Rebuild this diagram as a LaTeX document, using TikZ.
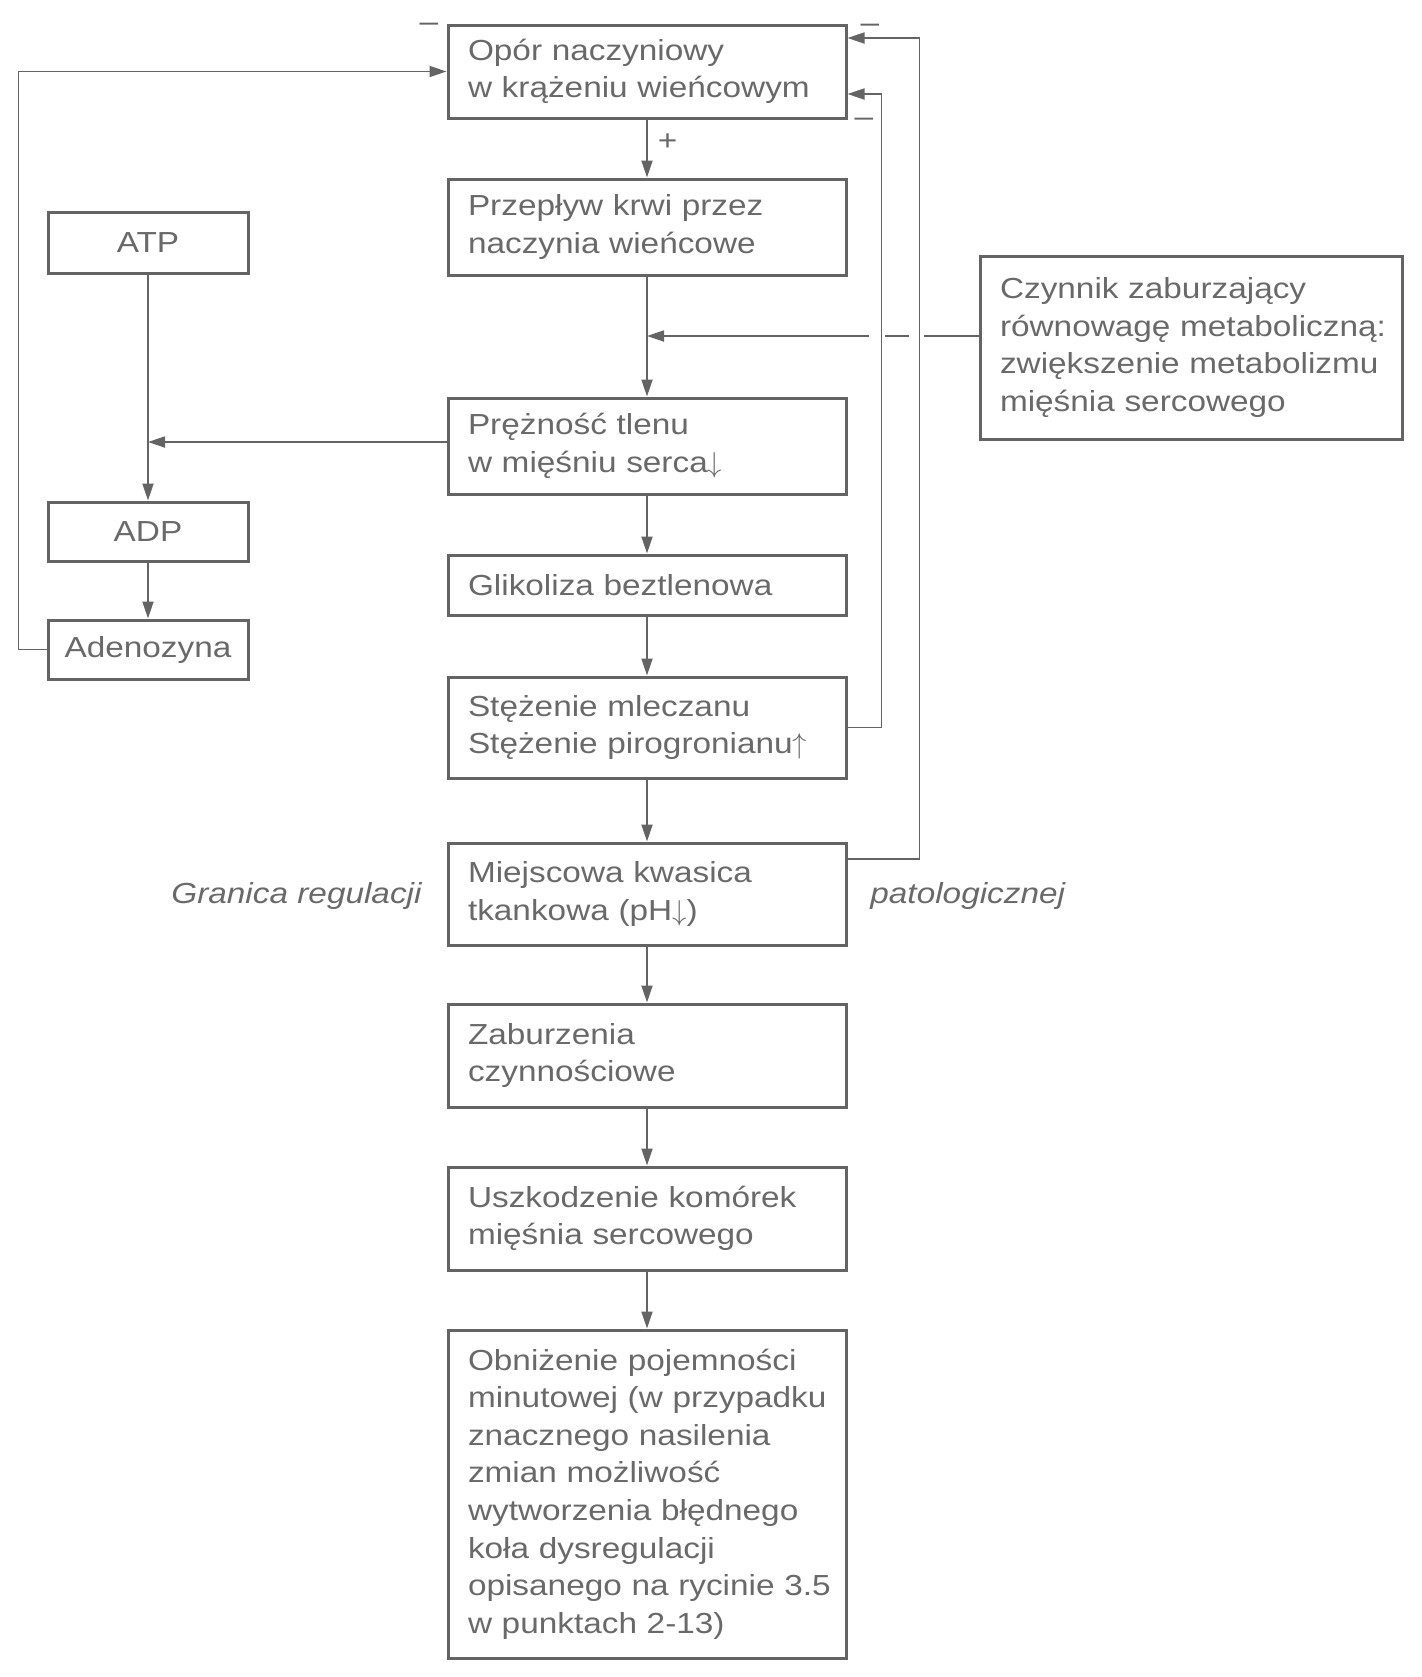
\documentclass[tikz,border=0pt]{standalone}
\usepackage{fontspec}
\setmainfont{Liberation Sans}[FakeStretch=1.15]
\usetikzlibrary{arrows.meta,calc}
\definecolor{lg}{RGB}{100,100,100}
\definecolor{tg}{RGB}{105,105,105}
\newcommand{\dnarr}{$\downarrow$}
\newcommand{\uparr}{$\uparrow$}
\newcommand{\nohyph}{\hyphenpenalty=10000\relax\exhyphenpenalty=10000\relax}
\newcommand{\basefont}{\fontsize{14.5}{18.8}\selectfont\nohyph}
\begin{document}
\begin{tikzpicture}[x=0.5pt,y=-0.5pt,
  every node/.style={font=\basefont, text=tg},
  box/.style={draw=lg, line width=1.5pt, rectangle, inner xsep=10pt, inner ysep=0pt},
  mainbox/.style={box, minimum width=199pt, text width=179pt, align=left},
  smallbox/.style={box, inner xsep=3pt, minimum width=100pt, align=center},
  sidebox/.style={box, minimum width=211pt, text width=191pt, align=left},
  ln/.style={draw=lg, line width=0.9pt},
  arr/.style={ln, -{Triangle[length=8.5pt,width=5.5pt]}},
  sign/.style={inner sep=0pt, text=lg},
  lbl/.style={inner sep=0pt, font=\basefont\itshape}]
\path[use as bounding box] (0,0) rectangle (1421,1677);

% main column
\node[mainbox, minimum height=46.5pt] (opor) at (647,71.5) {Opór~naczyniowy\\w~krążeniu~wieńcowym};
\node[mainbox, minimum height=48pt] (prz) at (647,227) {Przepływ~krwi~przez\\naczynia~wieńcowe};
\node[mainbox, minimum height=48pt] (prez) at (647,446) {Prężność~tlenu\\w~mięśniu~serca\dnarr};
\node[mainbox, minimum height=30pt] (glik) at (647,585) {Glikoliza~beztlenowa};
\node[mainbox, minimum height=50.5pt] (stez) at (647,727.5) {Stężenie~mleczanu\\Stężenie~pirogronianu\uparr};
\node[mainbox, minimum height=51pt] (miej) at (647,894) {Miejscowa~kwasica\\tkankowa~(pH\dnarr)};
\node[mainbox, minimum height=51.5pt] (zab) at (647,1055.5) {Zaburzenia\\czynnościowe};
\node[mainbox, minimum height=51.5pt] (usz) at (647,1218.5) {Uszkodzenie~komórek\\mięśnia~sercowego};
\node[mainbox, minimum height=164pt] (obn) at (647,1494) {Obniżenie~pojemności\\minutowej~(w~przypadku\\znacznego~nasilenia\\zmian~możliwość\\wytworzenia~błędnego\\koła~dysregulacji\\opisanego~na~rycinie~3.5\\w~punktach~2-13)};

% left column
\node[smallbox, minimum height=30.5pt] (atp) at (148,242.5) {ATP};
\node[smallbox, minimum height=29.5pt] (adp) at (148,531.5) {ADP};
\node[smallbox, minimum height=29.5pt] (aden) at (148,649.5) {Adenozyna};

% right box
\node[sidebox, minimum height=91.5pt] (czyn) at (1191,347.5) {Czynnik~zaburzający\\równowagę~metaboliczną:\\zwiększenie~metabolizmu\\mięśnia~sercowego};

% labels
\node[lbl, anchor=base east] (gran) at (422,903) {Granica regulacji};
\node[lbl, anchor=base west] (pato) at (870,903) {patologicznej};

% signs
\node[sign] (m1) at (429,27) {–};
\node[sign] (m2) at (870,28) {–};
\node[sign] (m3) at (864,122) {–};

% main chain
\draw[arr] (opor) -- (prz) node[pos=0.39, anchor=west, xshift=2pt, inner sep=3pt] (plus) {+};
\draw[arr] (prz) -- (prez);
\draw[arr] (prez) -- (glik);
\draw[arr] (glik) -- (stez);
\draw[arr] (stez) -- (miej);
\draw[arr] (miej) -- (zab);
\draw[arr] (zab) -- (usz);
\draw[arr] (usz) -- (obn);

% left chain
\draw[arr] (atp) -- (adp);
\draw[arr] (adp) -- (aden);
\coordinate (pw) at ($(prez.west)+(0,-4)$);
\draw[arr] (pw) -- (pw -| atp.south);
\draw[arr] (aden.west) -- ++(-28,0) |- (opor.west);

% feedback loops on the right
\coordinate (oR1) at ($(opor.east)+(0,-33.5)$);
\coordinate (oR2) at ($(opor.east)+(0,22.5)$);
\coordinate (mE) at ($(miej.east)+(0,-35)$);
\draw[arr] (stez.east) -- ++(34,0) |- (oR2);
\draw[arr] (mE) -- ++(72,0) |- (oR1);

% disturbing factor, crossing the two loops with gaps
\coordinate (czw) at ($(czyn.west)+(0,-11.5)$);
\draw[ln] (czw) -- ++(-55,0);
\draw[ln] ($(czw)+(-70,0)$) -- ($(czw)+(-94,0)$);
\coordinate (czs) at ($(czw)+(-110,0)$);
\draw[arr] (czs) -- (czw -| prz.south);
\end{tikzpicture}
\end{document}
